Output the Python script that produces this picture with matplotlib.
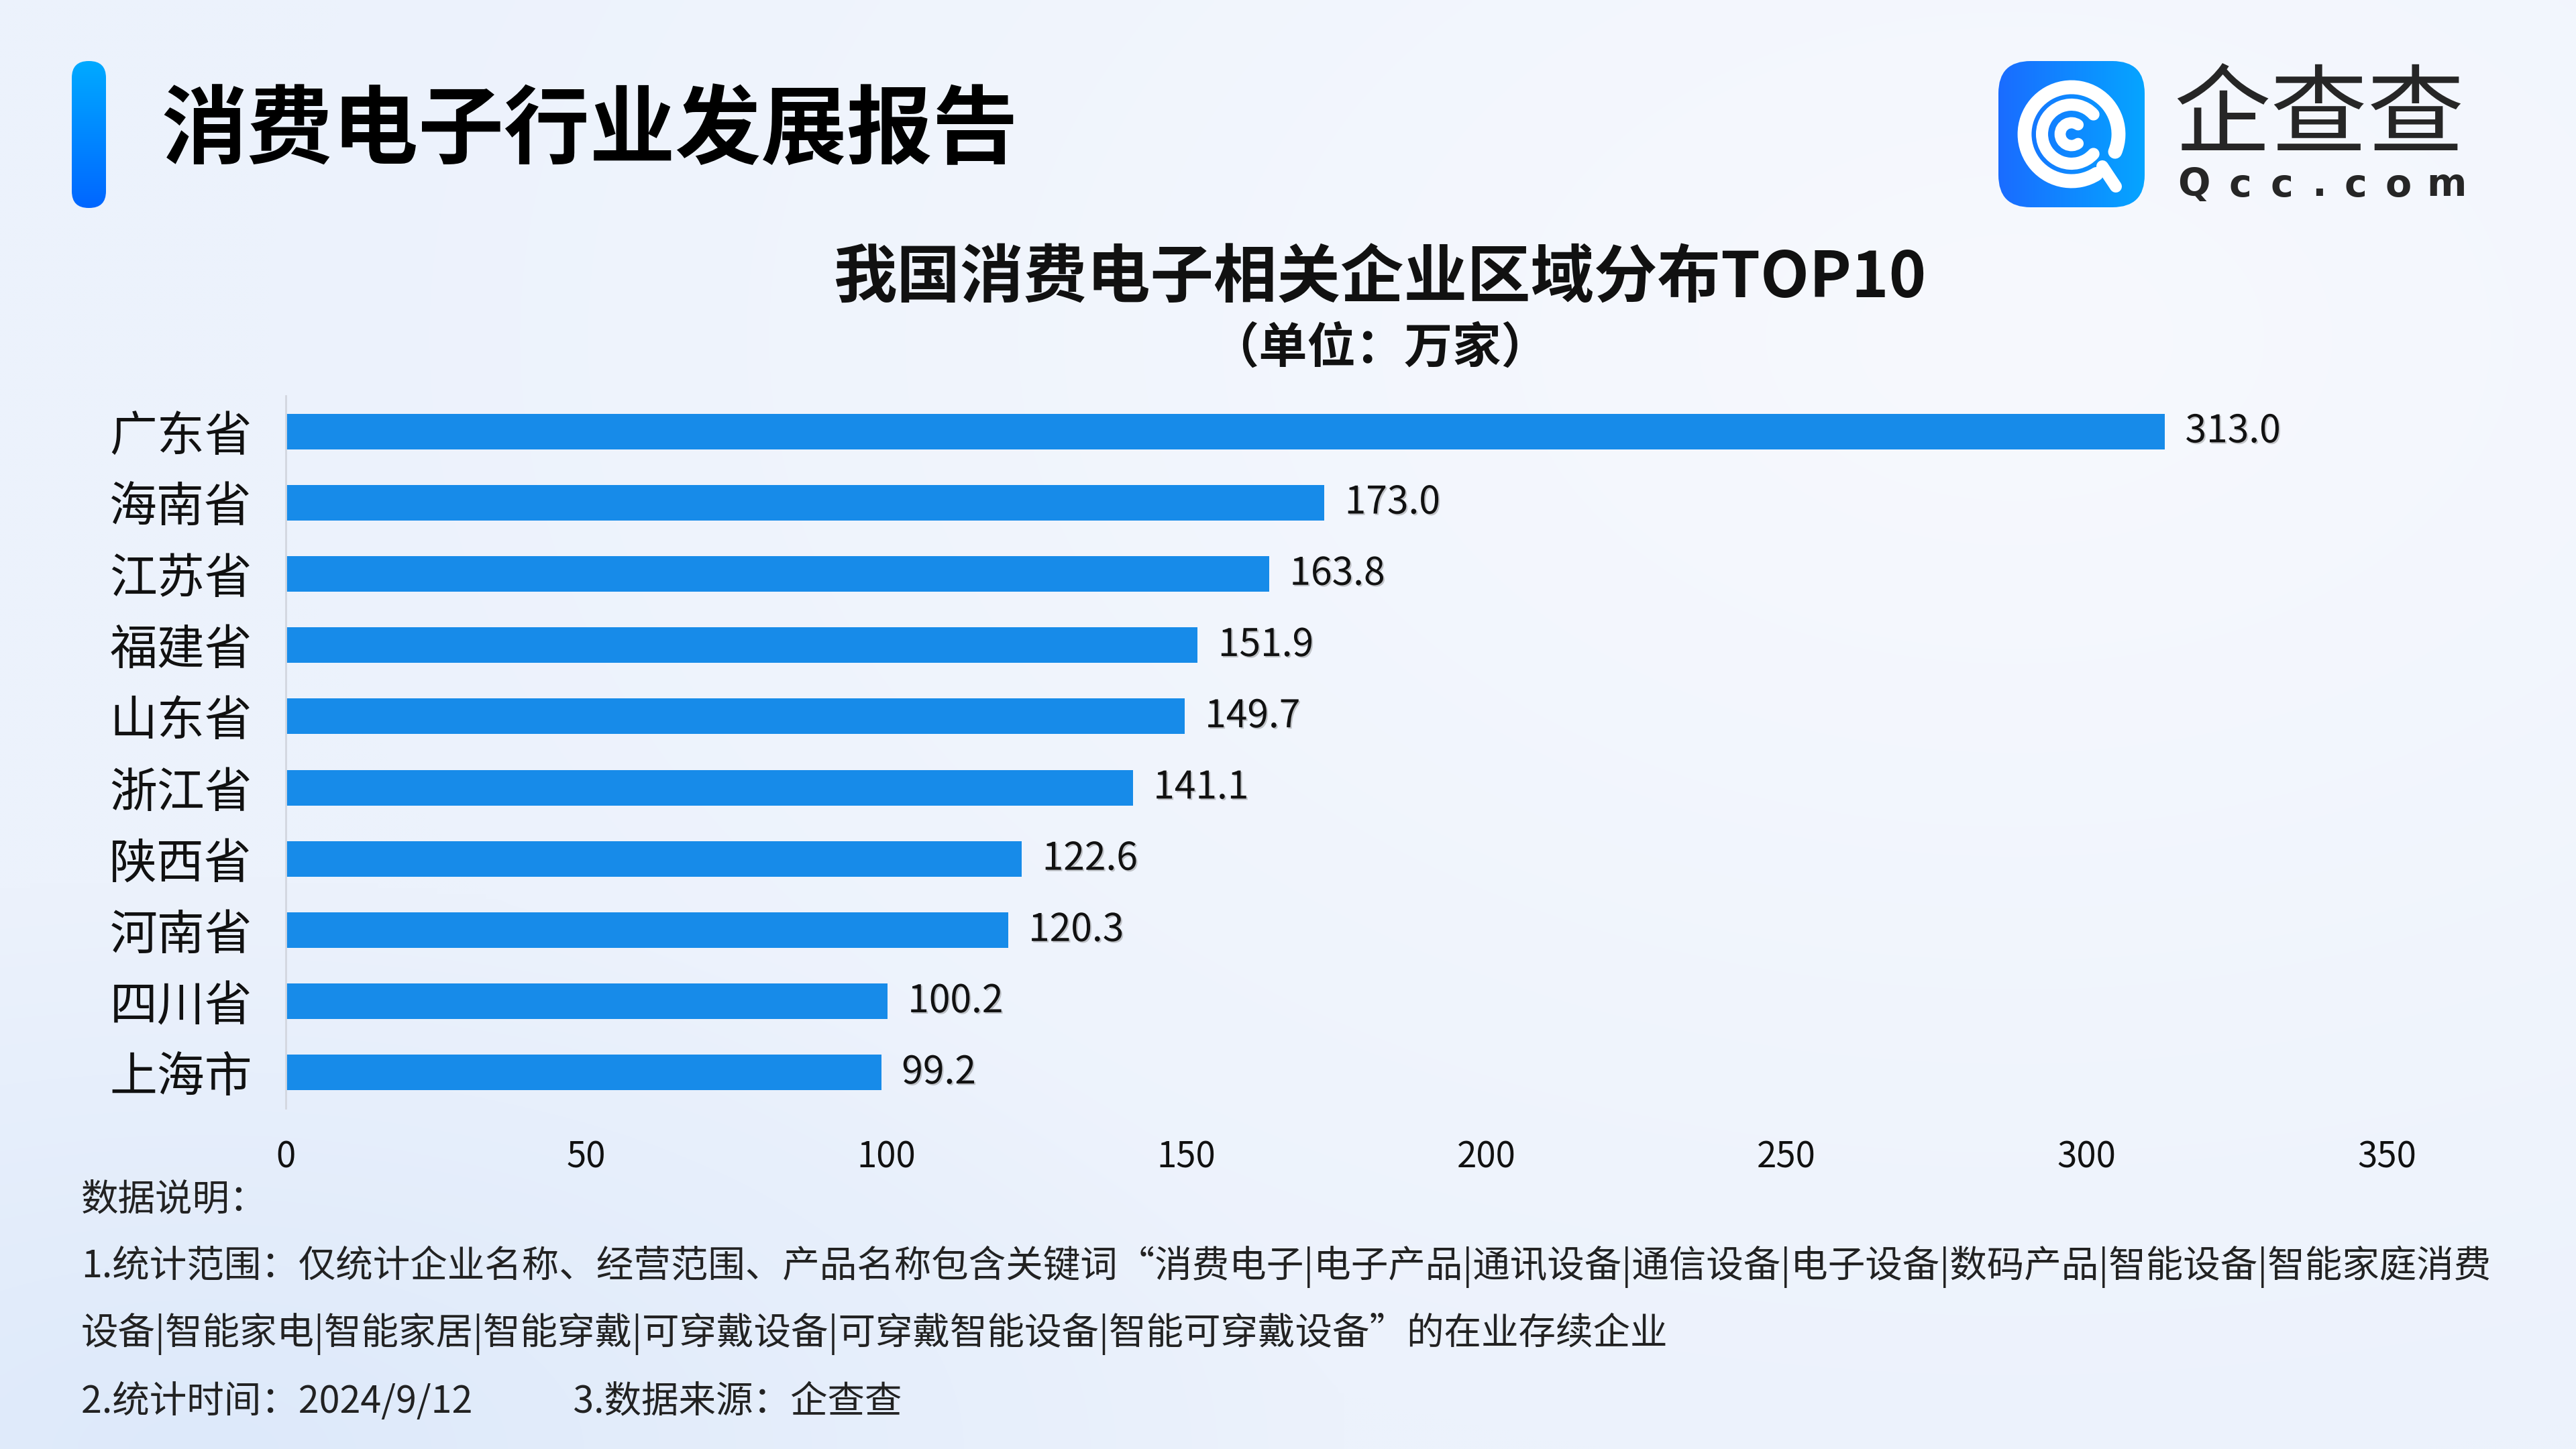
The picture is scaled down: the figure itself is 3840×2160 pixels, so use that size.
import numpy as np
import matplotlib
matplotlib.use('Agg')
import matplotlib.pyplot as plt
from matplotlib.patches import FancyBboxPatch, Arc
from matplotlib.lines import Line2D
import matplotlib.patheffects as pe

# ---------------- data ----------------
regions = ['广东省', '海南省', '江苏省', '福建省', '山东省',
           '浙江省', '陕西省', '河南省', '四川省', '上海市']
values = [313.0, 173.0, 163.8, 151.9, 149.7, 141.1, 122.6, 120.3, 100.2, 99.2]
x_ticks = [0, 50, 100, 150, 200, 250, 300, 350]

header = '消费电子行业发展报告'
chart_title = '我国消费电子相关企业区域分布TOP10'
chart_unit = '（单位：万家）'
notes = [
    '数据说明：',
    '1.统计范围：仅统计企业名称、经营范围、产品名称包含关键词“消费电子|电子产品|通讯设备|通信设备|电子设备|数码产品|智能设备|智能家庭消费',
    '设备|智能家电|智能家居|智能穿戴|可穿戴设备|可穿戴智能设备|智能可穿戴设备”的在业存续企业',
    '2.统计时间：2024/9/12            3.数据来源：企查查',
]

plt.rcParams['font.family'] = ['Noto Sans CJK SC', 'DejaVu Sans']

W, H = 3840, 2160
fig = plt.figure(figsize=(38.4, 21.6), dpi=100)

# ---------------- background ----------------
bg = fig.add_axes([0, 0, 1, 1], zorder=0)
bg.set_xlim(0, W)
bg.set_ylim(H, 0)
bg.axis('off')
yy, xx = np.mgrid[0:H:8, 0:W:8]
base = np.array([236, 242, 252]) / 255
light = np.array([247, 249, 254]) / 255
bluish = np.array([221, 233, 250]) / 255
t_light = np.clip(1 - np.hypot((xx - 3000) / 2600, (yy - 500) / 1700), 0, 1)
t_blue = np.clip(1 - np.hypot((xx - 300) / 1700, (yy - 2160) / 850), 0, 1)
img = base + (light - base) * t_light[..., None] + (bluish - base) * t_blue[..., None]
bg.imshow(np.clip(img, 0, 1), extent=[0, W, H, 0], aspect='auto',
          interpolation='bilinear', zorder=0)


def gradient_patch(ax, x, y, w, h, r, c1, c2, horizontal=False):
    patch = FancyBboxPatch((x, y), w, h, boxstyle=f'round,pad=0,rounding_size={r}',
                           facecolor='none', edgecolor='none', zorder=2)
    ax.add_patch(patch)
    c1 = np.array(c1) / 255
    c2 = np.array(c2) / 255
    t = np.linspace(0, 1, 256)
    if horizontal:
        g = (c1[None, :] + (c2 - c1)[None, :] * t[:, None])[None, :, :]
    else:
        g = (c1[None, :] + (c2 - c1)[None, :] * t[:, None])[:, None, :]
    im = ax.imshow(g, extent=[x, x + w, y + h, y], aspect='auto', zorder=2,
                   interpolation='bilinear')
    im.set_clip_path(patch)
    return patch


# header accent bar
gradient_patch(bg, 107, 91, 51, 219, 25, (0, 170, 255), (0, 102, 255))
fig.text(240 / W, 1 - 197 / H, header, fontsize=92, fontweight='heavy',
         color='#000000', ha='left', va='center')

# logo icon
gradient_patch(bg, 2979, 91, 218, 218, 48, (26, 108, 255), (5, 165, 255), horizontal=True)
cx, cy = 3088, 200
bg.add_patch(Arc((cx, cy), 140, 140, theta1=58, theta2=382, lw=15, color='white',
                 capstyle='round', zorder=3))
bg.add_patch(Arc((cx, cy), 88, 88, theta1=42, theta2=318, lw=13, color='white',
                 capstyle='round', zorder=3))
bg.add_patch(Arc((cx, cy), 34, 34, theta1=55, theta2=305, lw=12, color='white',
                 capstyle='round', zorder=3))
bg.add_line(Line2D([3134, 3154], [248, 278], lw=13, color='white',
                   solid_capstyle='round', zorder=3))
fig.text(3457 / W, 1 - 176 / H, '企查查', fontsize=104, fontweight='medium',
         color='#262626', ha='center', va='center')
for ch, px in zip('Qcc.com', [3270, 3339, 3401, 3457, 3511, 3575, 3647]):
    fig.text(px / W, 1 - 277 / H, ch, fontsize=41, fontweight='bold',
             color='#262626', ha='center', va='center', family='DejaVu Sans')

# chart titles
fig.text(2057 / W, 1 - 416 / H, chart_title, fontsize=68, fontweight='bold',
         color='#111111', ha='center', va='center')
fig.text(2057 / W, 1 - 520 / H, chart_unit, fontsize=52, fontweight='bold',
         color='#111111', ha='center', va='center')

# ---------------- main chart ----------------
ax = fig.add_axes([426 / W, 1 - 1652 / H, (3558 - 426) / W, (1652 - 590) / H], zorder=2)
ax.patch.set_alpha(0)
ypos = np.arange(len(regions))
ax.barh(ypos, values, height=0.5, color='#178BE9', zorder=2)
ax.set_ylim(len(regions) - 0.5, -0.5)
ax.set_xlim(x_ticks[0], x_ticks[-1])
ax.set_xticks(x_ticks)
ax.set_xticklabels([str(t) for t in x_ticks])
ax.set_yticks(ypos)
ax.set_yticklabels(regions)
ax.tick_params(axis='x', length=0, pad=33, labelsize=38, labelcolor='#111111')
ax.tick_params(axis='y', length=0, pad=36, labelsize=51, labelcolor='#111111')
for s in ['top', 'right', 'bottom']:
    ax.spines[s].set_visible(False)
ax.spines['left'].set_color('#D3D7DF')
ax.spines['left'].set_linewidth(2)

for yi, v in zip(ypos, values):
    ax.annotate(f'{v:.1f}', xy=(v, yi), xytext=(22, 0), textcoords='offset points',
                ha='left', va='center', fontsize=41, fontweight='medium', color='#111111',
                path_effects=[pe.withSimplePatchShadow(offset=(1.5, -1.5),
                                                       shadow_rgbFace='#666666',
                                                       alpha=0.35)])

# ---------------- footnotes ----------------
for txt, yc in zip(notes, [1788, 1888, 1988, 2090]):
    fig.text(121 / W, 1 - yc / H, txt, fontsize=40, color='#222222',
             ha='left', va='center')

fig.savefig('out.png', dpi=100)
